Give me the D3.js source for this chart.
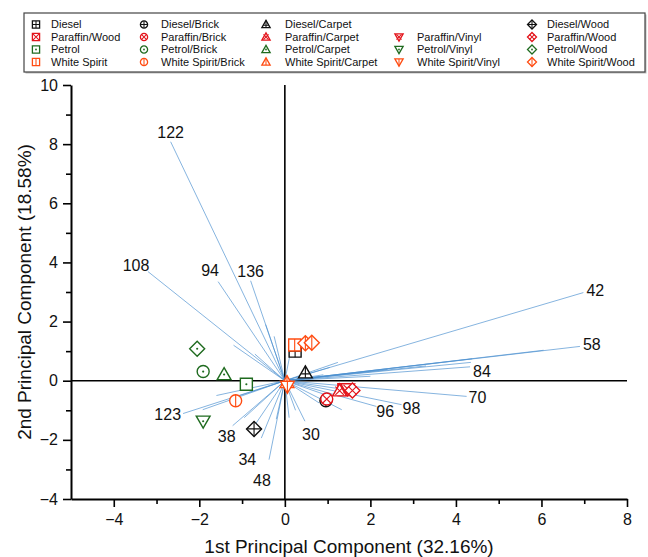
<!DOCTYPE html>
<html>
<head>
<meta charset="utf-8">
<script src="https://cdn.jsdelivr.net/npm/d3@7"></script>
<style>
  html, body { margin: 0; padding: 0; background: #fff; }
  svg { display: block; font-family: Arial, "Liberation Sans", sans-serif; }
</style>
</head>
<body>
<svg id="chart" width="648" height="557"></svg>
<script>
// ---- PCA scores (sample groups) ----
const sampleNames = [
  "Diesel", "Diesel/Brick", "Diesel/Carpet", "Diesel/Wood",
  "Paraffin/Wood", "Paraffin/Brick", "Paraffin/Carpet", "Paraffin/Vinyl", "Paraffin/Wood",
  "Petrol", "Petrol/Brick", "Petrol/Carpet", "Petrol/Vinyl", "Petrol/Wood",
  "White Spirit", "White Spirit/Brick", "White Spirit/Carpet", "White Spirit/Vinyl",
  "White Spirit/Wood", "White Spirit/Wood"
];
const sampleFuel = [
  "Diesel", "Diesel", "Diesel", "Diesel",
  "Paraffin", "Paraffin", "Paraffin", "Paraffin", "Paraffin",
  "Petrol", "Petrol", "Petrol", "Petrol", "Petrol",
  "White Spirit", "White Spirit", "White Spirit", "White Spirit",
  "White Spirit", "White Spirit"
];
const sampleShape = [
  "square", "circle", "triangle", "diamond",
  "square", "circle", "triangle", "down", "diamond",
  "square", "circle", "triangle", "down", "diamond",
  "square", "circle", "triangle", "down",
  "diamond", "diamond"
];
const scoreX = [
  0.24, 0.96, 0.48, -0.72,
  1.38, 0.98, 1.28, 1.47, 1.58,
  -0.90, -1.91, -1.42, -1.91, -2.05,
  0.23, -1.15, 0.05, 0.06,
  0.48, 0.63
];
const scoreY = [
  1.00, -0.68, 0.27, -1.63,
  -0.30, -0.62, -0.34, -0.28, -0.33,
  -0.12, 0.31, 0.21, -1.37, 1.08,
  1.21, -0.68, -0.06, -0.19,
  1.27, 1.28
];

// ---- PCA loadings (variables) ----
const loadingIds = [
  "122", "108", "94", "136", "42", "58", "84", "70", "98", "96",
  "30", "123", "38", "34", "48",
  "", "", "", "", "", "", "", "", "",
  "", "", "", "", "", "",
  "", "", "", "", "", "",
  "", "", "", "", ""
];
const loadingX = [
  -2.67, -3.20, -1.56, -0.80, 6.98, 6.90, 4.33, 4.25, 2.73, 2.14,
  0.47, -2.38, -1.22, -0.55, -0.37,
  6.05, 4.35, 4.38, 3.30, 2.40, 1.24, 1.05, 0.90, 2.00,
  1.33, 1.65, 1.10, 0.80, 0.25, 0.10,
  -1.92, -1.30, -0.95, -0.75, -0.20, -1.60,
  -1.20, -0.45, -0.25, -0.70, 0.15
];
const loadingY = [
  8.08, 3.69, 3.35, 3.38, 2.98, 1.16, 0.47, -0.53, -0.81, -0.87,
  -1.37, -1.11, -1.52, -1.94, -2.67,
  1.03, 0.62, 0.74, 0.50, 0.38, 0.62, 0.45, 0.20, 0.15,
  -0.98, -0.35, -0.55, -0.75, -1.00, -1.25,
  -0.98, -0.62, -1.25, -1.60, -1.30, -0.50,
  1.20, 1.90, 1.50, 0.90, 1.10
];

// ---- axes ----
const xMajorTicks = [-4, -2, 0, 2, 4, 6, 8];
const xMinorTicks = [-3, -1, 1, 3, 5, 7];
const yMajorTicks = [-4, -2, 0, 2, 4, 6, 8, 10];
const yMinorTicks = [-3, -1, 1, 3, 5, 7, 9];
const xTitle = "1st Principal Component (32.16%)";
const yTitle = "2nd Principal Component (18.58%)";

// ---- legend (column by column, null = empty slot) ----
const legendColumns = [
  ["Diesel", "Paraffin/Wood", "Petrol", "White Spirit"],
  ["Diesel/Brick", "Paraffin/Brick", "Petrol/Brick", "White Spirit/Brick"],
  ["Diesel/Carpet", "Paraffin/Carpet", "Petrol/Carpet", "White Spirit/Carpet"],
  [null, "Paraffin/Vinyl", "Petrol/Vinyl", "White Spirit/Vinyl"],
  ["Diesel/Wood", "Paraffin/Wood", "Petrol/Wood", "White Spirit/Wood"]
];
const legendRowFuel = ["Diesel", "Paraffin", "Petrol", "White Spirit"];
const legendColShape = ["square", "circle", "triangle", "down", "diamond"];

// ---------------------------------------------------------------
const fuelColor = {
  "Diesel": "#111111",
  "Paraffin": "#e3141b",
  "Petrol": "#1f6b1f",
  "White Spirit": "#ff4c12"
};

const svg = d3.select("#chart");
const x = d3.scaleLinear().domain([-5, 8]).range([71, 627]);
const y = d3.scaleLinear().domain([-4, 10]).range([499, 85]);

// outline of each marker shape, half-size s
function outline(shape, s) {
  if (shape === "square") return `M${-s},${-s}H${s}V${s}H${-s}Z`;
  if (shape === "circle") return `M${-s},0A${s},${s} 0 1,0 ${s},0A${s},${s} 0 1,0 ${-s},0Z`;
  if (shape === "triangle") return `M0,${-s * 1.15}L${s * 1.15},${s * 0.85}L${-s * 1.15},${s * 0.85}Z`;
  if (shape === "down") return `M0,${s * 1.15}L${s * 1.15},${-s * 0.85}L${-s * 1.15},${-s * 0.85}Z`;
  if (shape === "diamond") return `M0,${-s * 1.25}L${s * 1.25},0L0,${s * 1.25}L${-s * 1.25},0Z`;
}
// inner decoration that tells the fuel apart
function inner(shape, fuel, s) {
  const k = shape === "diamond" ? 1.25 : 1;
  let top = -s * k, bot = s * k, half = s * k;
  if (shape === "triangle") { top = -s * 1.15; bot = s * 0.85; half = s * 0.45; }
  if (shape === "down") { top = -s * 0.85; bot = s * 1.15; half = s * 0.45; }
  if (fuel === "Diesel") {
    const hy = shape === "triangle" ? s * 0.2 : shape === "down" ? -s * 0.2 : 0;
    const hw = (shape === "triangle" || shape === "down") ? s * 0.7 : half;
    return `M0,${top}V${bot}M${-hw},${hy}H${hw}`;
  }
  if (fuel === "Paraffin") {
    const d = shape === "square" ? s : s * 0.7;
    return `M${-d},${-d}L${d},${d}M${d},${-d}L${-d},${d}`;
  }
  if (fuel === "White Spirit") return `M0,${top}V${bot}`;
  return null;
}
function drawMarker(g, shape, fuel, s, sw) {
  const c = fuelColor[fuel];
  g.append("path").attr("d", outline(shape, s))
    .attr("fill", "#fff").attr("stroke", c).attr("stroke-width", sw);
  const d = inner(shape, fuel, s);
  if (d) g.append("path").attr("d", d).attr("fill", "none").attr("stroke", c).attr("stroke-width", sw * 0.8);
  if (fuel === "Petrol") g.append("circle").attr("r", Math.max(0.9, s * 0.18)).attr("fill", c);
}

// ---- zero lines ----
svg.append("line").attr("x1", x(0)).attr("x2", x(0)).attr("y1", y(10)).attr("y2", y(-4))
  .attr("stroke", "#000").attr("stroke-width", 1.6);
svg.append("line").attr("x1", x(-5)).attr("x2", x(8)).attr("y1", y(0)).attr("y2", y(0))
  .attr("stroke", "#000").attr("stroke-width", 1.6);

// ---- loading vectors ----
const loadings = loadingIds.map((id, i) => ({ id, lx: loadingX[i], ly: loadingY[i] }));
svg.append("g").selectAll("line").data(loadings).join("line")
  .attr("x1", x(0)).attr("y1", y(0))
  .attr("x2", d => x(d.lx)).attr("y2", d => y(d.ly))
  .attr("stroke", "#4a8fcf").attr("stroke-opacity", 0.75).attr("stroke-width", 0.9);

// ---- score markers ----
const samples = sampleNames.map((n, i) => ({
  name: n, fuel: sampleFuel[i], shape: sampleShape[i], sx: scoreX[i], sy: scoreY[i]
}));
const mg = svg.append("g");
samples.forEach(d => {
  const g = mg.append("g").attr("transform", `translate(${x(d.sx)},${y(d.sy)})`);
  drawMarker(g, d.shape, d.fuel, 6, 1.4);
});

// ---- loading labels ----
const labelPlace = {
  "122": [0, -10, "middle"], "108": [-12, -6, "middle"], "94": [-8, -11, "middle"],
  "136": [0, -10, "middle"], "42": [3, -2, "start"], "58": [3, -2, "start"],
  "84": [3, 4, "start"], "70": [2, 1, "start"], "98": [1, 4, "start"],
  "96": [0, 5, "start"], "30": [6, 13, "middle"], "123": [-2, 1, "end"],
  "38": [-6, 11, "middle"], "34": [-14, 21, "middle"], "48": [-7, 21, "middle"]
};
svg.append("g").selectAll("text").data(loadings.filter(d => d.id)).join("text")
  .attr("x", d => x(d.lx) + labelPlace[d.id][0])
  .attr("y", d => y(d.ly) + labelPlace[d.id][1])
  .attr("dy", "0.36em")
  .attr("text-anchor", d => labelPlace[d.id][2])
  .attr("font-size", 16).attr("fill", "#111")
  .text(d => d.id);

// ---- axes ----
svg.append("g").attr("transform", `translate(0,${y(-4)})`)
  .call(d3.axisBottom(x).tickValues(xMajorTicks).tickSize(8).tickSizeOuter(0).tickPadding(7));
svg.append("g").attr("transform", `translate(0,${y(-4)})`)
  .call(d3.axisBottom(x).tickValues(xMinorTicks).tickSize(5).tickSizeOuter(0).tickFormat(""))
  .select(".domain").remove();
svg.append("g").attr("transform", `translate(${x(-5)},0)`)
  .call(d3.axisLeft(y).tickValues(yMajorTicks).tickSize(8).tickSizeOuter(0).tickPadding(5));
svg.append("g").attr("transform", `translate(${x(-5)},0)`)
  .call(d3.axisLeft(y).tickValues(yMinorTicks).tickSize(5).tickSizeOuter(0).tickFormat(""))
  .select(".domain").remove();
svg.selectAll(".domain").attr("stroke", "#000").attr("stroke-width", 2);
svg.selectAll(".tick line").attr("stroke", "#000").attr("stroke-width", 1.6);
svg.selectAll(".tick text").attr("font-size", 16).attr("fill", "#111")
  .attr("font-family", "Arial, 'Liberation Sans', sans-serif");

svg.append("text").attr("x", x(1.5)).attr("y", 553)
  .attr("text-anchor", "middle").attr("font-size", 19).attr("fill", "#111").text(xTitle);
svg.append("text").attr("transform", `translate(31,${y(3)}) rotate(-90)`)
  .attr("text-anchor", "middle").attr("font-size", 19).attr("fill", "#111").text(yTitle);

// ---- legend ----
const lg = svg.append("g");
lg.append("rect").attr("x", 25.5).attr("y", 14.5).attr("width", 621).attr("height", 59)
  .attr("fill", "#bbb");
lg.append("rect").attr("x", 24).attr("y", 13).attr("width", 621).attr("height", 59)
  .attr("fill", "#fff").attr("stroke", "#444").attr("stroke-width", 1.2);
const colX = [36, 144, 266, 399, 532];
const textX = [51, 161, 285, 417, 547];
const rowY = [24.5, 37, 49.5, 62];
legendColumns.forEach((col, ci) => {
  col.forEach((label, ri) => {
    if (!label) return;
    const g = lg.append("g").attr("transform", `translate(${colX[ci]},${rowY[ri]})`);
    drawMarker(g, legendColShape[ci], legendRowFuel[ri], 3.6, 1.3);
    lg.append("text").attr("x", textX[ci]).attr("y", rowY[ri]).attr("dy", "0.36em")
      .attr("font-size", 11).attr("fill", "#111").text(label);
  });
});
</script>
</body>
</html>
